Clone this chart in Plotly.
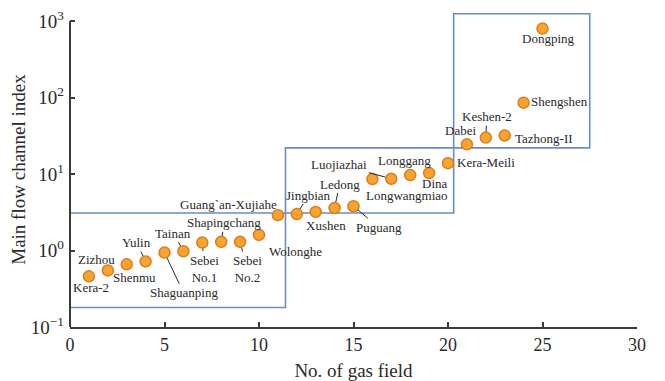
import math
import plotly.graph_objects as go

# ---- data ----
field_no = list(range(1, 26))
field_names = [
    "Kera-2", "Zizhou", "Shenmu", "Yulin", "Shaguanping", "Tainan",
    "Sebei<br>No.1", "Shapingchang", "Sebei<br>No.2", "Wolonghe",
    "Guang`an-Xujiahe", "Jingbian", "Xushen", "Ledong", "Puguang",
    "Longwangmiao", "Luojiazhai", "Longgang", "Dina", "Kera-Meili",
    "Dabei", "Keshen-2", "Tazhong-II", "Shengshen", "Dongping",
]
flow_index = [0.46, 0.55, 0.66, 0.72, 0.94, 0.98, 1.27, 1.3, 1.3, 1.6,
              2.9, 3.0, 3.2, 3.6, 3.8, 8.6, 8.7, 9.7, 10.3, 13.9,
              24.5, 30, 32, 86, 800]

# classification boxes: (x0, x1, y0, y1)
box_x0 = [0, 11.4, 20.3]
box_x1 = [11.4, 20.3, 27.5]
box_y0 = [0.18, 3.1, 22]
box_y1 = [3.1, 22, 1250]

x_ticks = [0, 5, 10, 15, 20, 25, 30]
y_tickvals = [0.1, 1, 10, 100, 1000]
y_ticktext = ["10<sup>\u22121</sup>", "10<sup>0</sup>", "10<sup>1</sup>",
              "10<sup>2</sup>", "10<sup>3</sup>"]

# label placement (pixel offsets): name -> (dx, dy, leader line?)
label_pos = {
    "Kera-2": (2, 11, False), "Zizhou": (-11, -11, False), "Shenmu": (8, 13, False),
    "Yulin": (-9, -19, True), "Shaguanping": (19, 40, True), "Tainan": (-10, -18, True),
    "Sebei<br>No.1": (2, 26, True), "Shapingchang": (3, -19, True),
    "Sebei<br>No.2": (7, 27, True), "Wolonghe": (36, 17, True),
    "Guang`an-Xujiahe": (-49, -11, False), "Jingbian": (12, -19, True),
    "Xushen": (10, 14, False), "Ledong": (5, -24, True), "Puguang": (25, 21, True),
    "Longwangmiao": (35, 16, False), "Luojiazhai": (-52, -14, True),
    "Longgang": (-6, -15, False), "Dina": (6, 10, False), "Kera-Meili": (38, -1, False),
    "Dabei": (-6, -14, False), "Keshen-2": (1, -21, True), "Tazhong-II": (39, 3, False),
    "Shengshen": (36, -1, False), "Dongping": (6, 10, False),
}

FONT = "Liberation Serif, Times New Roman, serif"
TXT = "#2a2a2a"
AX = "#3a3a3a"

fig = go.Figure()
fig.add_trace(go.Scatter(
    x=field_no, y=flow_index, mode="markers",
    marker=dict(size=11, color="#f7a531", line=dict(color="#e27a1c", width=1.5)),
    hoverinfo="skip", showlegend=False,
))

shapes = []
for x0, x1, y0, y1 in zip(box_x0, box_x1, box_y0, box_y1):
    shapes.append(dict(type="rect", xref="x", yref="y", x0=x0, x1=x1, y0=y0, y1=y1,
                       line=dict(color="#6b8dc6", width=1.6), layer="below"))
# left axis line from 10^-1 to 10^3
shapes.append(dict(type="line", xref="paper", yref="y", x0=0, x1=0,
                   y0=y_tickvals[0], y1=y_tickvals[-1], line=dict(color=AX, width=2)))

annotations = []
for xv, yv, name in zip(field_no, flow_index, field_names):
    dx, dy, arrow = label_pos[name]
    base = dict(x=xv, y=math.log10(yv), xref="x", yref="y", text=name,
                font=dict(family=FONT, size=13, color=TXT))
    if arrow:
        base.update(showarrow=True, ax=dx, ay=dy, arrowhead=0, arrowwidth=1,
                    arrowcolor=TXT, standoff=6)
    else:
        base.update(showarrow=False, xshift=dx, yshift=-dy)
    annotations.append(base)

fig.update_layout(
    width=657, height=373,
    margin=dict(l=62, r=28, t=4, b=54, autoexpand=False),
    paper_bgcolor="white", plot_bgcolor="white",
    font=dict(family=FONT, color=TXT),
    shapes=shapes, annotations=annotations,
    xaxis=dict(range=[0, 30], tickvals=x_ticks, showgrid=False, zeroline=False,
               automargin=False, ticklabeloverflow="allow",
               showline=True, linecolor=AX, linewidth=2,
               ticks="inside", ticklen=5, tickwidth=1.5, tickcolor=AX,
               tickfont=dict(family=FONT, size=18, color=TXT),
               title=dict(text="No. of gas field", font=dict(family=FONT, size=19, color=TXT),
                          standoff=10)),
    yaxis=dict(type="log", range=[-1, 3.12], tickvals=y_tickvals, ticktext=y_ticktext,
               showgrid=False, zeroline=False, showline=False, automargin=False,
               ticklabeloverflow="allow", ticklabelstandoff=5,
               ticks="inside", ticklen=5, tickwidth=1.5, tickcolor=AX,
               tickfont=dict(family=FONT, size=19, color=TXT),
               title=dict(text="Main flow channel index",
                          font=dict(family=FONT, size=19, color=TXT), standoff=2)),
)

fig.write_html("out.html")
